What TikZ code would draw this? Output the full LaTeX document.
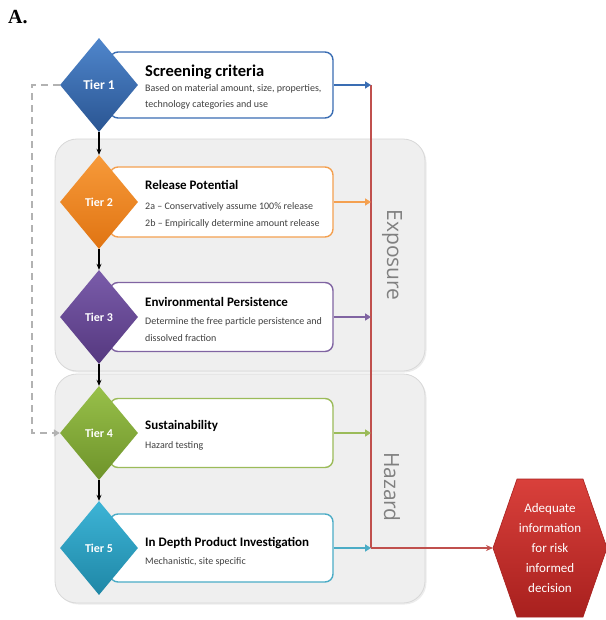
\documentclass[tikz,border=0pt]{standalone}
\usepackage{fontspec}
\setmainfont{Carlito}
\newfontfamily\labfont{Open Sans}
\newfontfamily\serfont{Liberation Serif}
\usetikzlibrary{shapes.geometric,arrows.meta,shadows}
\definecolor{tblue}{HTML}{3A6DB3}
\definecolor{tbluel}{HTML}{4F86CC}
\definecolor{tblued}{HTML}{2A5592}
\definecolor{torange}{HTML}{F4A050}
\definecolor{torangel}{HTML}{F79A3A}
\definecolor{toranged}{HTML}{E07412}
\definecolor{tpurple}{HTML}{8064A2}
\definecolor{tpurplel}{HTML}{7A5CAA}
\definecolor{tpurpled}{HTML}{55387F}
\definecolor{tgreen}{HTML}{9BBB59}
\definecolor{tgreenl}{HTML}{98C04A}
\definecolor{tgreend}{HTML}{6E932A}
\definecolor{tteal}{HTML}{4BACC6}
\definecolor{tteall}{HTML}{3DB4D6}
\definecolor{ttealdd}{HTML}{1F87A6}
\definecolor{tred}{HTML}{C0504D}
\definecolor{hexl}{HTML}{D9403B}
\definecolor{hexd}{HTML}{A8201E}
\definecolor{grpfill}{HTML}{EFEFEF}
\definecolor{grpline}{HTML}{D8D8D8}
\definecolor{subtxt}{HTML}{404040}
\begin{document}
\begin{tikzpicture}[x=1pt,y=-1pt,
  tier/.style={diamond,minimum width=78pt,minimum height=94pt,inner sep=0pt,
    text=white,font=\bfseries\fontsize{12}{13}\selectfont},
  infobox/.style={draw,line width=1.4pt,rounded corners=8pt,fill=white,
    minimum width=223pt,inner sep=0pt},
  group/.style={draw=grpline,line width=0.8pt,fill=grpfill,rounded corners=22pt,
    drop shadow={opacity=0.15,shadow xshift=1.5pt,shadow yshift=-1.5pt}},
  ttl/.style={anchor=base west,font=\bfseries\fontsize{13}{15}\selectfont,text=black,inner sep=0pt},
  sub/.style={anchor=base west,font=\fontsize{10}{12}\selectfont,text=subtxt,inner sep=0pt},
  flow/.style={-{Stealth[length=6pt,width=5pt]},line width=1.1pt,black},
  outarrow/.style={-{Triangle[length=6pt,width=7pt]},line width=2pt},
  grouplab/.style={font=\labfont\fontsize{21}{22}\selectfont,text=black!50,rotate=-90}
]
\useasboundingbox (0,0) rectangle (605,620);
\node[anchor=north west,font=\serfont\bfseries\fontsize{20}{22}\selectfont,inner sep=0pt] (lab) at (8,10) {A.};

% groups
\path[group] (55,139) rectangle (425,371);
\path[group] (55,374) rectangle (425,603);
\node[grouplab] (expo) at (392,255) {Exposure};
\node[grouplab] (haz) at (392,487) {Hazard};

% boxes
\node[infobox,draw=tblue,minimum height=66pt] (b1) at (221.5,85) {};
\node[infobox,draw=torange,minimum height=70pt] (b2) at (221.5,202) {};
\node[infobox,draw=tpurple,minimum height=69pt] (b3) at (221.5,317) {};
\node[infobox,draw=tgreen,minimum height=69pt] (b4) at (221.5,433) {};
\node[infobox,draw=tteal,minimum height=68pt] (b5) at (221.5,548) {};

% box texts
\node[ttl,font=\bfseries\fontsize{16.5}{18}\selectfont] (t1) at (145,77) {Screening criteria};
\node[sub] (s1a) at (145,92) {Based on material amount, size, properties,};
\node[sub] (s1b) at (145,108) {technology categories and use};
\node[ttl] (t2) at (145,190) {Release Potential};
\node[sub] (s2a) at (145,209) {2a -- Conservatively assume 100\% release};
\node[sub] (s2b) at (145,226) {2b -- Empirically determine amount release};
\node[ttl] (t3) at (145,306) {Environmental Persistence};
\node[sub] (s3a) at (145,324) {Determine the free particle persistence and};
\node[sub] (s3b) at (145,341) {dissolved fraction};
\node[ttl] (t4) at (145,429) {Sustainability};
\node[sub] (s4a) at (145,448) {Hazard testing};
\node[ttl] (t5) at (145,546) {In Depth Product Investigation};
\node[sub] (s5a) at (145,564) {Mechanistic, site specific};

% diamonds
\node[tier,top color=tbluel,bottom color=tblued,font=\bfseries\fontsize{13.5}{14}\selectfont] (d1) at (99,85) {Tier 1};
\node[tier,top color=torangel,bottom color=toranged] (d2) at (99,202) {Tier 2};
\node[tier,top color=tpurplel,bottom color=tpurpled] (d3) at (99,317) {Tier 3};
\node[tier,top color=tgreenl,bottom color=tgreend] (d4) at (99,433) {Tier 4};
\node[tier,top color=tteall,bottom color=ttealdd] (d5) at (99,548) {Tier 5};

% flow arrows
\draw[flow] (d1.south) -- (d2.north);
\draw[flow] (d2.south) -- (d3.north);
\draw[flow] (d3.south) -- (d4.north);
\draw[flow] (d4.south) -- (d5.north);

% dashed feedback
\draw[draw=black!30,line width=2pt,dash pattern=on 7pt off 5pt,
  -{Triangle[length=6pt,width=7pt]}] (d1.west) -- (32,85) -- (32,433) -- (d4.west);

% red collector
\coordinate (r1) at (371,85);
\coordinate (r2) at (371,202);
\coordinate (r3) at (371,317);
\coordinate (r4) at (371,433);
\coordinate (r5) at (371,548);
\coordinate (hexL) at (493,548);
\draw[tred,line width=1.5pt] (r1) -- (r5);
\draw[tred,line width=1.5pt,-{Stealth[length=7pt,width=6pt]}] (r5) -- (hexL);

\draw[outarrow,tblue] (b1.east) -- (r1);
\draw[outarrow,torange] (b2.east) -- (r2);
\draw[outarrow,tpurple] (b3.east) -- (r3);
\draw[outarrow,tgreen] (b4.east) -- (r4);
\draw[outarrow,tteal] (b5.east) -- (r5);

% hexagon
\path[top color=hexl,bottom color=hexd,draw=hexd,line width=0.6pt]
  (hexL) -- (517,479) -- (583,479) -- (607,548) -- (583,617) -- (517,617) -- cycle;
\node[align=center,text=white,font=\fontsize{13}{20}\selectfont] (hx) at (550,548)
  {Adequate\\information\\for risk\\informed\\decision};
\end{tikzpicture}
\end{document}
